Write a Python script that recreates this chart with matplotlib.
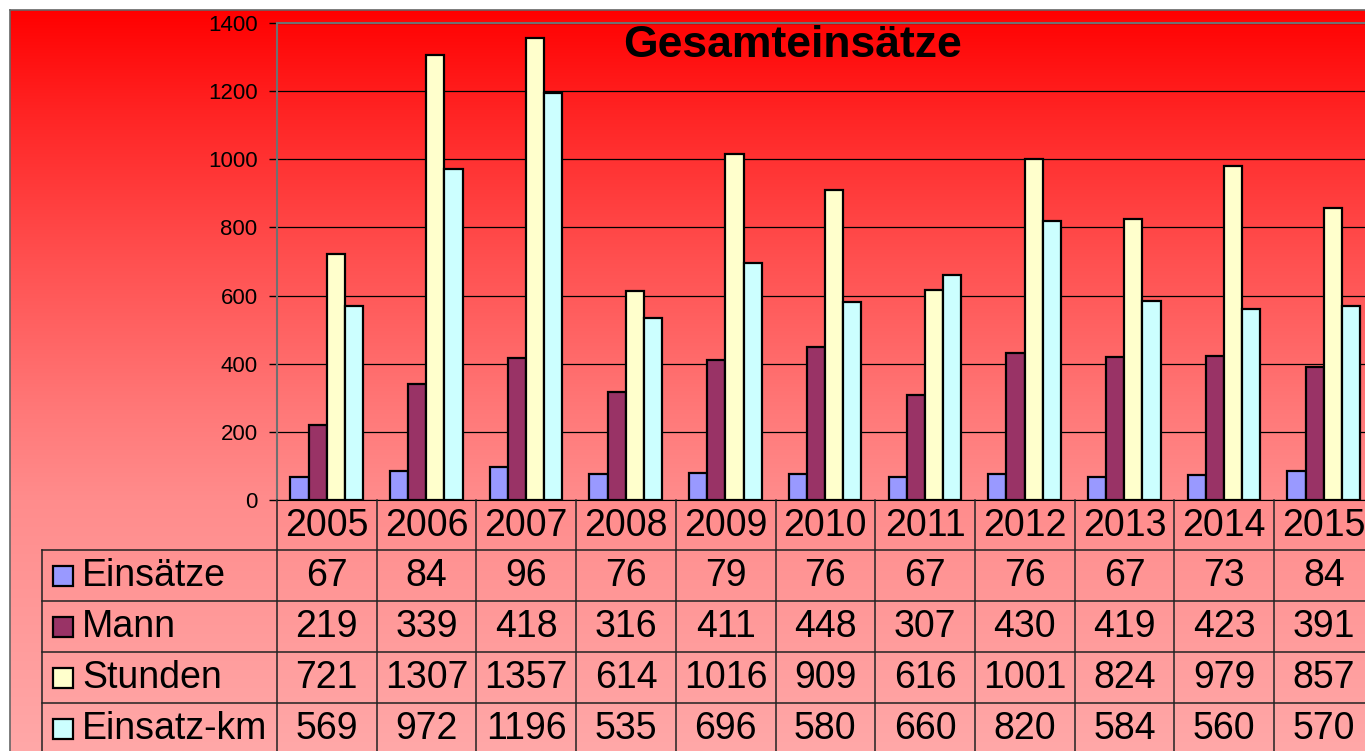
import numpy as np
import matplotlib.pyplot as plt
from matplotlib.transforms import blended_transform_factory

plt.rcParams['font.family'] = ['Liberation Sans', 'DejaVu Sans']

years = ['2005', '2006', '2007', '2008', '2009', '2010', '2011', '2012', '2013', '2014', '2015']
series_names = ['Einsätze', 'Mann', 'Stunden', 'Einsatz-km']
einsaetze = [67, 84, 96, 76, 79, 76, 67, 76, 67, 73, 84]
mann = [219, 339, 418, 316, 411, 448, 307, 430, 419, 423, 391]
stunden = [721, 1307, 1357, 614, 1016, 909, 616, 1001, 824, 979, 857]
einsatz_km = [569, 972, 1196, 535, 696, 580, 660, 820, 584, 560, 570]
colors = ['#9999FF', '#993366', '#FFFFCC', '#CCFFFF']

W, H = 1365, 751
fig = plt.figure(figsize=(W / 100, H / 100), dpi=100)
fig.patch.set_facecolor('white')

# background gradient (red -> pink), pixel coordinates
bg = fig.add_axes([0, 0, 1, 1], zorder=0)
bg.set_xlim(0, W)
bg.set_ylim(H, 0)
bg.axis('off')
yy = np.arange(10, H + 1)
g = np.interp(yy, [10, 110, 260, 410, 500, 751], [0, 35, 80, 120, 140, 168]) / 255
grad = np.zeros((len(yy), 2, 3))
grad[:, :, 0] = 1.0
grad[:, :, 1] = g[:, None]
grad[:, :, 2] = g[:, None]
bg.imshow(grad, extent=[10, W, H, 10], aspect='auto', interpolation='bilinear')
bg.plot([10, 10], [10, H], color='#666666', lw=1.2)
bg.plot([10, W], [10, 10], color='#666666', lw=1.2)

# main plot area
x0, y0, col_w, plot_h = 277, 500, 99.7, 477
ax = fig.add_axes([x0 / W, (H - y0) / H, col_w * len(years) / W, plot_h / H], zorder=2)
ax.set_facecolor('none')
ax.set_xlim(-0.5, len(years) - 0.5)
ax.set_ylim(0, 1400)
ax.set_yticks(range(0, 1401, 200))
ax.tick_params(axis='y', labelsize=16, length=6, width=1, pad=8, colors='black')
ax.set_xticks([])
ax.set_axisbelow(True)
ax.grid(axis='y', color='black', lw=0.9)
ax.spines['left'].set_color('#707070')
ax.spines['left'].set_linewidth(1.5)
ax.spines['top'].set_color('#707070')
ax.spines['top'].set_linewidth(1.5)
ax.spines['right'].set_visible(False)
ax.spines['bottom'].set_color('black')

x = np.arange(len(years))
bw = 0.182
all_series = [einsaetze, mann, stunden, einsatz_km]
for k, (vals, c) in enumerate(zip(all_series, colors)):
    ax.bar(x - 0.275 + k * bw, vals, width=bw, color=c, edgecolor='black', linewidth=1.6, zorder=3)

fig.text(792 / W, 1 - 57 / H, 'Gesamteinsätze', ha='center', va='baseline',
         fontsize=32, fontweight='bold')

# data table under the plot
trans = blended_transform_factory(ax.transData, ax.transAxes)

def fy(py):
    return (y0 - py) / plot_h

def fx(px):
    return (px - x0) / col_w - 0.5

line_kw = dict(transform=trans, clip_on=False, color='#222222', lw=1.1, zorder=4)
right = len(years) + 0.5
for k in range(len(years) + 1):
    ax.plot([k - 0.5, k - 0.5], [fy(500), fy(760)], **line_kw)
for py in [550, 601, 652, 703]:
    ax.plot([fx(42), right], [fy(py), fy(py)], **line_kw)
ax.plot([fx(42), fx(42)], [fy(550), fy(760)], **line_kw)

for i, yr in enumerate(years):
    ax.text(i, fy(526), yr, transform=trans, ha='center', va='center', fontsize=27, clip_on=False)

for r, (name, vals, c) in enumerate(zip(series_names, all_series, colors)):
    yc = fy(576 + 51 * r)
    ax.plot([fx(63)], [yc], marker='s', ms=14, mfc=c, mec='black', mew=1.6,
            transform=trans, clip_on=False, zorder=5)
    ax.text(fx(82), yc, name, transform=trans, ha='left', va='center', fontsize=27, clip_on=False)
    for i, v in enumerate(vals):
        ax.text(i, yc, str(v), transform=trans, ha='center', va='center', fontsize=27, clip_on=False)

fig.savefig('out.png', dpi=100)
